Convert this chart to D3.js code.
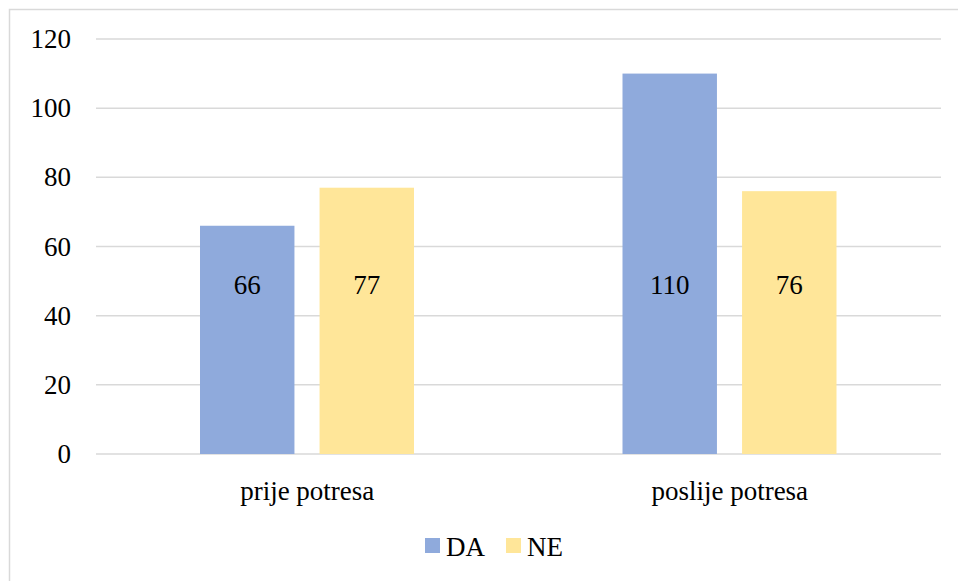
<!DOCTYPE html>
<html>
<head>
<meta charset="utf-8">
<script src="https://cdn.jsdelivr.net/npm/d3@7"></script>
<style>
  body { margin: 0; background: #fff; font-family: 'Liberation Serif', 'Times New Roman', serif; }
  svg { display: block; }
  #fontwarm { position: absolute; left: -9999px; top: 0; font-family: 'Liberation Serif'; font-size: 27px; }
</style>
</head>
<body>
<div id="fontwarm">0</div>
<svg id="chart" width="958" height="581"></svg>
<script>
const categories = ['prije potresa', 'poslije potresa'];
const seriesNames = ['DA', 'NE'];
const daValues = [66, 110];
const neValues = [77, 76];
const yTicks = [0, 20, 40, 60, 80, 100, 120];

const colors = { DA: '#8FAADC', NE: '#FFE699' };
const W = 958, H = 581;
const margin = { top: 39, right: 17, bottom: 127, left: 96 };
const width = W - margin.left - margin.right;
const height = H - margin.top - margin.bottom;

const svg = d3.select('#chart');

// serif text helper
const serif = sel => sel
  .attr('font-family', 'Liberation Serif')
  .attr('font-size', 27)
  .attr('fill', '#000');

// outer chart border
svg.append('rect')
  .attr('x', 9.5).attr('y', 9.5)
  .attr('width', W + 10).attr('height', H + 10)
  .attr('fill', 'none').attr('stroke', '#D9D9D9').attr('stroke-width', 1.5);

const g = svg.append('g').attr('transform', `translate(${margin.left},${margin.top})`);

const x0 = d3.scaleBand().domain(categories).range([0, width]);
const x1 = d3.scaleBand().domain(seriesNames).range([104, 318]).paddingInner(0.21);
const y = d3.scaleLinear().domain([0, 120]).range([height, 0]);

// gridlines
g.append('g')
  .selectAll('line')
  .data(yTicks)
  .join('line')
  .attr('x1', 0).attr('x2', width)
  .attr('y1', d => y(d)).attr('y2', d => y(d))
  .attr('stroke', '#D9D9D9').attr('stroke-width', 1.5);

// y axis labels
const yAxis = d3.axisLeft(y).tickValues(yTicks).tickSize(0).tickPadding(25);
g.append('g').call(yAxis)
  .attr('font-family', 'Liberation Serif').attr('font-size', 27)
  .call(s => s.select('.domain').remove())
  .selectAll('text')
  .call(serif);

const rows = categories.map((c, i) => ({ cat: c, DA: daValues[i], NE: neValues[i] }));

const groups = g.selectAll('.grp')
  .data(rows)
  .join('g')
  .attr('class', 'grp')
  .attr('transform', d => `translate(${x0(d.cat)},0)`);

const bars = groups.selectAll('g.bar')
  .data(d => seriesNames.map(k => ({ key: k, value: d[k] })))
  .join('g').attr('class', 'bar');

bars.append('rect')
  .attr('x', d => x1(d.key))
  .attr('y', d => y(d.value))
  .attr('width', x1.bandwidth())
  .attr('height', d => y(0) - y(d.value))
  .attr('fill', d => colors[d.key]);

// data labels sit at a common level
bars.append('text')
  .attr('x', d => x1(d.key) + x1.bandwidth() / 2)
  .attr('y', y(49))
  .attr('dy', '0.35em')
  .attr('text-anchor', 'middle')
  .call(serif)
  .text(d => d.value);

// category labels
g.append('g')
  .selectAll('text')
  .data(categories)
  .join('text')
  .attr('x', d => x0(d) + x0.bandwidth() / 2)
  .attr('y', height + 46)
  .attr('text-anchor', 'middle')
  .call(serif)
  .text(d => d);

// legend
const legend = svg.append('g').attr('transform', 'translate(425,538)');
const items = legend.selectAll('g')
  .data(seriesNames)
  .join('g')
  .attr('transform', (d, i) => `translate(${i * 81},0)`);
items.append('rect')
  .attr('width', 15).attr('height', 15)
  .attr('fill', d => colors[d]);
items.append('text')
  .attr('x', 21).attr('y', 18)
  .call(serif)
  .text(d => d);
</script>
</body>
</html>
